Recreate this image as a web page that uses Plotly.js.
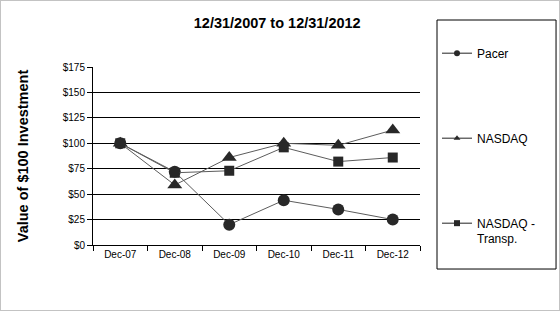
<!DOCTYPE html>
<html>
<head>
<meta charset="utf-8">
<script src="https://cdn.plot.ly/plotly-3.0.1.min.js"></script>
<style>
html,body{margin:0;padding:0;background:#fff;}
#chart{width:560px;height:311px;box-sizing:border-box;border:1px solid #c3c3c3;}
</style>
</head>
<body>
<div id="chart"></div>
<script>
const categories = ["Dec-07","Dec-08","Dec-09","Dec-10","Dec-11","Dec-12"];
const pacer = [100, 72, 20, 44, 35, 25];
const nasdaq = [100, 59, 86, 100, 98, 113];
const transp = [100, 71, 73, 96, 82, 86];
const seriesNames = ["Pacer", "NASDAQ", "NASDAQ -<br>Transp."];
const yTicks = [0, 25, 50, 75, 100, 125, 150, 175];
const yTickLabels = ["$0", "$25", "$50", "$75", "$100", "$125", "$150", "$175"];

const lineColor = "#5c5c5c";
const markColor = "#282828";
const series = [
  {y: pacer, symbol: "circle", size: 12},
  {y: nasdaq, symbol: "triangle-up", size: 13},
  {y: transp, symbol: "square", size: 10}
];
const traces = [];
series.forEach((s, i) => {
  traces.push({
    x: categories, y: s.y, type: "scatter", mode: "lines+markers",
    line: {color: lineColor, width: 1},
    marker: {symbol: s.symbol, size: s.size, color: markColor},
    showlegend: false, hoverinfo: "skip", cliponaxis: false
  });
});
series.forEach((s, i) => {
  traces.push({
    x: [null], y: [null], type: "scatter", mode: "lines+markers",
    name: seriesNames[i], legendgroup: "g" + i,
    line: {color: "#222", width: 1},
    marker: {symbol: s.symbol, size: 6, color: markColor},
    showlegend: true
  });
});

const layout = {
  width: 558, height: 309,
  margin: {l: 92, r: 139, t: 66, b: 65, pad: 0},
  paper_bgcolor: "#fff", plot_bgcolor: "#fff",
  font: {family: "Liberation Sans, Arial, sans-serif", size: 10, color: "#000"},
  title: {text: "<b>12/31/2007 to 12/31/2012</b>", font: {size: 14.5, color: "#000"},
          x: 0.495, xref: "container", y: 0.93, yref: "container", xanchor: "center", yanchor: "middle"},
  xaxis: {type: "category", range: [-0.5, 5.5], showline: true, linecolor: "#000", linewidth: 1,
          ticks: "outside", tickson: "boundaries", ticklen: 5, tickcolor: "#000", showgrid: false,
          tickfont: {size: 10}, fixedrange: true},
  yaxis: {range: [0, 175], tickmode: "array", tickvals: yTicks, ticktext: yTickLabels, showline: true,
          linecolor: "#000", linewidth: 1, ticks: "outside", ticklen: 5, tickcolor: "#000", showgrid: true,
          gridcolor: "#000", gridwidth: 1, zeroline: false, tickfont: {size: 10},
          title: {text: "<b>Value of $100 Investment</b>", font: {size: 14.5}, standoff: 30},
          fixedrange: true},
  legend: {x: 1.052, xanchor: "left", y: 1.158, yanchor: "top", traceorder: "grouped",
           tracegroupgap: 66, font: {size: 12}, borderwidth: 0, bgcolor: "rgba(0,0,0,0)",
           maxheight: 280, valign: "top"},
  shapes: [
    {type: "line", xref: "paper", yref: "y", x0: 0.002, x1: 1, y0: 175, y1: 175,
     line: {color: "#fff", width: 2}, layer: "above"},
    {type: "rect", xref: "paper", yref: "paper", x0: 1.052, x1: 1.416, y0: -0.135, y1: 1.264,
     line: {color: "#000", width: 1}, fillcolor: "rgba(0,0,0,0)"}
  ],
  showlegend: true
};
Plotly.newPlot("chart", traces, layout, {displayModeBar: false, staticPlot: true});
</script>
</body>
</html>
